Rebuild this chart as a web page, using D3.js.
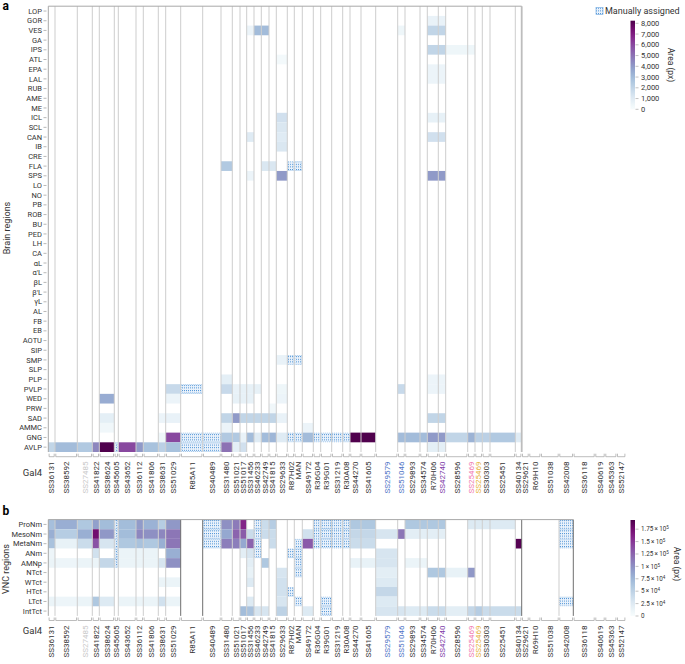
<!DOCTYPE html>
<html><head><meta charset="utf-8">
<script src="https://cdn.jsdelivr.net/npm/d3@7"></script>
<style>body{margin:0;background:#fff}text{font-family:Roboto,"Noto Sans",sans-serif}</style>
</head><body><svg id="c" width="685" height="664"></svg>
<script>
// ---------- DATA ----------
const gal4 = ["SS36131","SS38592","SS27485","SS41822","SS38624","SS45605","SS43652","SS36112","SS41806","SS38631","SS51029","R85A11","SS40489","SS31480","SS51021","SS51017","SS31456","SS46233","SS42749","SS41815","SS29633","R87H02","MAN","SS49172","R36G04","R39G01","SS31219","R30A08","SS44270","SS41605","SS29579","SS51046","SS29893","SS34574","R70H06","SS42740","SS28596","SS25469","SS25469","SS30303","SS25451","SS40134","SS29621","R69H10","SS51038","SS42008","SS36118","SS40619","SS45363","SS52147"];
// relative column widths (number of samples per line)
const colWeights = [6.7,22.3,15,7,15,4,17.7,7.3,15,7.4,15,22,18.3,11.3,7.7,6.7,7.3,7.3,7.7,7.3,11,7,8,11,7.4,11,11,7.3,11,14.7,22,7.3,15,7.3,11,7.4,22,7.3,7.3,7.7,25.3,6.4,7.3,11.7,18.3,14.3,21.7,10,11.7,9];
const brainRegions = ["LOP","GOR","VES","GA","IPS","ATL","EPA","LAL","RUB","AME","ME","ICL","SCL","CAN","IB","CRE","FLA","SPS","LO","NO","PB","ROB","BU","PED","LH","CA","αL","α′L","βL","β′L","γL","AL","FB","EB","AOTU","SIP","SMP","SLP","PLP","PVLP","WED","PRW","SAD","AMMC","GNG","AVLP"];
const vncRegions = ["ProNm","MesoNm","MetaNm","ANm","AMNp","NTct","WTct","HTct","LTct","IntTct"];
const brainTicks = [0,1000,2000,3000,4000,5000,6000,7000,8000];
const vncTicks = [0,25000,50000,75000,100000,125000,150000,175000];
// [region, column index (1-based), area px]
const brainCells = [
 ["GOR",35,600],["GOR",36,600],
 ["VES",17,500],["VES",18,3000],["VES",19,3000],["VES",32,400],["VES",35,2000],["VES",36,2000],
 ["IPS",35,2000],["IPS",36,2000],["IPS",37,400],["IPS",38,400],
 ["ATL",21,200],["EPA",35,500],["EPA",36,500],["LAL",35,500],["LAL",36,500],
 ["ICL",21,1500],["ICL",35,700],["ICL",36,700],["SCL",21,1200],
 ["CAN",17,1000],["CAN",21,1000],["CAN",35,1500],["CAN",36,1500],["IB",21,1200],
 ["FLA",14,2500],["FLA",19,1200],["FLA",20,1200],
 ["SPS",17,500],["SPS",21,4000],["SPS",35,4000],["SPS",36,4000],
 ["SMP",21,600],
 ["PLP",14,800],["PLP",35,500],["PLP",36,500],
 ["PVLP",11,1800],["PVLP",14,1800],["PVLP",15,600],["PVLP",16,700],["PVLP",17,700],["PVLP",18,700],["PVLP",21,400],["PVLP",32,1800],["PVLP",35,500],["PVLP",36,500],
 ["WED",5,3500],["WED",11,500],["WED",15,700],["WED",16,700],["WED",17,700],["WED",21,500],
 ["PRW",20,300],
 ["SAD",5,800],["SAD",10,500],["SAD",11,600],["SAD",14,2000],["SAD",15,4000],["SAD",16,2000],["SAD",17,2000],["SAD",18,2000],["SAD",19,2000],["SAD",20,2000],["SAD",21,600],["SAD",35,2000],["SAD",36,2000],
 ["AMMC",5,300],["AMMC",14,500],["AMMC",24,500],
 ["GNG",10,400],["GNG",11,6000],["GNG",14,2500],["GNG",15,2500],["GNG",16,600],["GNG",17,3000],["GNG",18,1000],["GNG",19,3000],["GNG",20,3200],["GNG",21,1000],["GNG",24,3000],["GNG",29,8200],["GNG",30,8200],["GNG",32,3000],["GNG",33,3000],["GNG",34,3000],["GNG",35,4000],["GNG",36,4000],["GNG",37,2000],["GNG",38,3300],["GNG",39,2200],["GNG",40,2200],["GNG",41,2500],["GNG",42,1000],
 ["AVLP",1,2000],["AVLP",2,3000],["AVLP",3,2500],["AVLP",4,4500],["AVLP",5,8200],["AVLP",7,6000],["AVLP",8,4000],["AVLP",9,2800],["AVLP",10,2200],["AVLP",11,2800],["AVLP",14,5000],["AVLP",15,800],["AVLP",16,1500],["AVLP",35,800],["AVLP",36,800]
];
const brainManual = [["FLA",22],["FLA",23],["SMP",22],["SMP",23],["PVLP",12],["GNG",12],["GNG",13],["GNG",22],["GNG",23],["GNG",25],["GNG",26],["GNG",27],["GNG",28],["AVLP",6],["AVLP",12],["AVLP",13]];
const vncCells = [
 ["ProNm",1,68000],["ProNm",2,81000],["ProNm",3,60000],["ProNm",4,90000],["ProNm",5,70000],["ProNm",7,70000],["ProNm",8,93000],["ProNm",9,78000],["ProNm",10,55000],["ProNm",11,95000],["ProNm",14,100000],["ProNm",15,112000],["ProNm",16,160000],["ProNm",19,40000],["ProNm",20,55000],["ProNm",29,60000],["ProNm",30,60000],["ProNm",33,60000],["ProNm",34,60000],["ProNm",35,60000],["ProNm",36,60000],["ProNm",38,25000],["ProNm",39,25000],["ProNm",40,25000],["ProNm",41,25000],
 ["MesoNm",1,80000],["MesoNm",2,55000],["MesoNm",3,80000],["MesoNm",4,175000],["MesoNm",5,95000],["MesoNm",7,70000],["MesoNm",8,105000],["MesoNm",9,100000],["MesoNm",10,105000],["MesoNm",11,115000],["MesoNm",14,85000],["MesoNm",15,125000],["MesoNm",16,130000],["MesoNm",17,40000],["MesoNm",19,40000],["MesoNm",20,40000],["MesoNm",24,35000],["MesoNm",29,45000],["MesoNm",30,45000],["MesoNm",31,30000],["MesoNm",32,115000],["MesoNm",33,20000],["MesoNm",34,20000],["MesoNm",35,20000],["MesoNm",36,20000],
 ["MetaNm",1,65000],["MetaNm",2,15000],["MetaNm",3,40000],["MetaNm",4,135000],["MetaNm",5,30000],["MetaNm",7,60000],["MetaNm",8,65000],["MetaNm",9,60000],["MetaNm",10,80000],["MetaNm",11,115000],["MetaNm",14,110000],["MetaNm",15,110000],["MetaNm",16,85000],["MetaNm",17,125000],["MetaNm",20,40000],["MetaNm",24,130000],["MetaNm",29,40000],["MetaNm",30,40000],["MetaNm",42,190000],
 ["ANm",1,10000],["ANm",4,35000],["ANm",7,12000],["ANm",8,12000],["ANm",9,12000],["ANm",11,80000],["ANm",16,20000],["ANm",17,30000],["ANm",31,30000],
 ["AMNp",1,12000],["AMNp",2,10000],["AMNp",3,12000],["AMNp",4,12000],["AMNp",5,45000],["AMNp",7,12000],["AMNp",8,12000],["AMNp",9,12000],["AMNp",10,30000],["AMNp",11,100000],["AMNp",17,20000],["AMNp",19,60000],["AMNp",29,15000],["AMNp",30,15000],["AMNp",31,30000],["AMNp",33,12000],["AMNp",34,12000],
 ["NTct",17,15000],["NTct",21,30000],["NTct",31,20000],["NTct",35,60000],["NTct",36,60000],["NTct",37,15000],["NTct",38,95000],
 ["WTct",10,12000],["WTct",11,12000],["WTct",17,25000],["WTct",21,35000],["WTct",31,25000],
 ["HTct",21,35000],["HTct",31,45000],
 ["LTct",1,12000],["LTct",2,10000],["LTct",3,12000],["LTct",4,60000],["LTct",5,25000],["LTct",7,12000],["LTct",8,12000],["LTct",9,12000],["LTct",10,35000],["LTct",11,12000],["LTct",17,25000],["LTct",21,30000],["LTct",31,25000],
 ["IntTct",16,70000],["IntTct",17,65000],["IntTct",18,30000],["IntTct",19,30000],["IntTct",21,50000],["IntTct",24,25000],["IntTct",31,30000],["IntTct",32,30000],["IntTct",33,25000],["IntTct",34,25000],["IntTct",35,40000],["IntTct",36,40000],["IntTct",37,20000],["IntTct",38,45000],["IntTct",39,55000],["IntTct",40,40000],["IntTct",41,40000],["IntTct",42,40000]
];
const vncManual = [["ProNm",6],["MesoNm",6],["MetaNm",6],["ANm",6],["AMNp",6],["ProNm",13],["MesoNm",13],["MetaNm",13],["ProNm",18],["MesoNm",18],["MetaNm",18],["ANm",18],["ANm",22],["ANm",23],["MetaNm",23],["AMNp",23],["NTct",23],["HTct",22],["LTct",23],["LTct",26],["IntTct",26],
 ["ProNm",25],["ProNm",26],["ProNm",27],["ProNm",28],["MesoNm",25],["MesoNm",26],["MesoNm",27],["MesoNm",28],["MetaNm",25],["MetaNm",26],["MetaNm",27],["MetaNm",28],
 ["ProNm",46],["MesoNm",46],["MetaNm",46],["LTct",46]];

// ---------- STYLE ----------
const labelColor = {2:"#c9c9c9",30:"#4e74c6",31:"#4e74c6",35:"#7d3aa8",37:"#f07ab0",38:"#e6b33a"};
const svg = d3.select("#c");
const defs = svg.append("defs");
const pat = defs.append("pattern").attr("id","manual").attr("patternUnits","userSpaceOnUse").attr("width",2).attr("height",2.6);
pat.append("rect").attr("width",2).attr("height",2.6).attr("fill","#eaf2fb");
pat.append("rect").attr("width",1).attr("height",1).attr("fill","#4d93d6");

const cum = [0]; colWeights.forEach(w => cum.push(cum[cum.length-1]+w));
const x = d3.scaleLinear().domain([0, cum[cum.length-1]]).range([48.3, 625.7]);
const yA = d3.scaleBand().domain(brainRegions).range([6.2, 452]);
const yB = d3.scaleBand().domain(vncRegions).range([519.6, 615.9]);
const colA = d3.scaleSequential(d3.interpolateBuPu).domain([0, 8250]);
const colB = d3.scaleSequential(d3.interpolateBuPu).domain([0, 193500]);

function panel(g, y, cells, manual, color, nColsLines, xRight, axisY, labelY, darkBounds, skipBounds, edgeBound){
  g.selectAll("rect.cell").data(cells).join("rect")
   .attr("x", d => x(cum[d[1]-1])).attr("width", d => x(cum[d[1]]) - x(cum[d[1]-1]))
   .attr("y", d => y(d[0])).attr("height", y.bandwidth()).attr("fill", d => color(d[2]));
  g.selectAll("rect.man").data(manual).join("rect")
   .attr("x", d => x(cum[d[1]-1])+0.5).attr("width", d => x(cum[d[1]]) - x(cum[d[1]-1]) - 1)
   .attr("y", d => y(d[0])+0.5).attr("height", y.bandwidth()-1).attr("fill","url(#manual)")
   .attr("stroke","#6aa6df").attr("stroke-width",0.6).attr("stroke-dasharray","1,1");
  const top = y.range()[0], bot = y.range()[1];
  const bounds = d3.range(1, nColsLines+1).filter(i => !skipBounds.includes(i));
  g.selectAll("line.v").data(bounds).join("line")
   .attr("x1", i => x(cum[i])).attr("x2", i => x(cum[i])).attr("y1", top).attr("y2", bot)
   .attr("stroke", i => darkBounds.includes(i) ? "#6e6e6e" : (i===edgeBound ? "#bdbdbd" : "#cdcdcd"))
   .attr("stroke-width", i => i===edgeBound && !darkBounds.includes(i) ? 1.8 : 1);
  g.append("line").attr("x1",48.3).attr("x2",xRight).attr("y1",top).attr("y2",top).attr("stroke","#a8a8a8");
  g.append("line").attr("x1",48.3).attr("x2",48.3).attr("y1",top).attr("y2",bot).attr("stroke","#a8a8a8");
  g.selectAll("line.yt").data(y.domain()).join("line")
   .attr("x1",43.5).attr("x2",46.5).attr("y1",d=>y(d)+y.bandwidth()/2).attr("y2",d=>y(d)+y.bandwidth()/2).attr("stroke","#999").attr("stroke-width",0.7);
  g.selectAll("text.yl").data(y.domain()).join("text")
   .attr("x",42).attr("y",d=>y(d)+y.bandwidth()/2).attr("dy","0.35em").attr("text-anchor","end")
   .attr("font-size",7.5).attr("fill","#333").text(d=>d);
  g.selectAll("path.br").data(gal4).join("path")
   .attr("d",(d,i)=>{const a=x(cum[i])+0.8,b=x(cum[i+1])-0.8;return `M${a},${axisY-3}V${axisY}H${b}V${axisY-3}`;})
   .attr("fill","none").attr("stroke","#a0a0a0").attr("stroke-width",0.7);
  g.selectAll("text.xl").data(gal4).join("text")
   .attr("transform",(d,i)=>`translate(${(x(cum[i])+x(cum[i+1]))/2},${labelY}) rotate(-90)`)
   .attr("dy","0.35em").attr("text-anchor","end").attr("font-size",8)
   .attr("fill",(d,i)=>labelColor[i]||"#333").text(d=>d);
}
panel(svg.append("g"), yA, brainCells, brainManual, colA, 42, 521.7, 456.7, 461.5, [], [], 42);
panel(svg.append("g"), yB, vncCells, vncManual, colB, 46, 573.3, 620.5, 625.5, [11,12,42,46], [43,44], 46);

svg.append("text").attr("x",32.5).attr("y",475.5).attr("text-anchor","middle").attr("font-size",9.5).attr("fill","#333").text("Gal4");
svg.append("text").attr("x",32.5).attr("y",634).attr("text-anchor","middle").attr("font-size",9.5).attr("fill","#333").text("Gal4");
svg.append("text").attr("transform","translate(10,228) rotate(-90)").attr("text-anchor","middle").attr("font-size",9).attr("fill","#333").text("Brain regions");
svg.append("text").attr("transform","translate(9,569) rotate(-90)").attr("text-anchor","middle").attr("font-size",9).attr("fill","#333").text("VNC regions");
svg.append("text").attr("x",2.5).attr("y",9.5).attr("font-size",12).attr("font-weight","bold").attr("fill","#000").text("a");
svg.append("text").attr("x",2.5).attr("y",515).attr("font-size",12).attr("font-weight","bold").attr("fill","#000").text("b");

// legend
svg.append("rect").attr("x",596).attr("y",7.5).attr("width",7).attr("height",7).attr("fill","url(#manual)").attr("stroke","#6aa6df").attr("stroke-width",0.6);
svg.append("text").attr("x",605).attr("y",14.3).attr("font-size",9).attr("fill","#333").text("Manually assigned");

// colorbars
const grad = defs.append("linearGradient").attr("id","bupu").attr("x1",0).attr("x2",0).attr("y1",1).attr("y2",0);
d3.range(0,1.0001,0.05).forEach(t => grad.append("stop").attr("offset",t).attr("stop-color",d3.interpolateBuPu(t)));
function colorbar(y0, y1, scaleMax, ticks, fmt, titleX, titleY, fs){
  const s = d3.scaleLinear().domain([0, scaleMax]).range([y1, y0]);
  svg.append("rect").attr("x",630.5).attr("y",y0).attr("width",4.5).attr("height",y1-y0).attr("fill","url(#bupu)");
  const g = svg.append("g");
  g.selectAll("line").data(ticks).join("line").attr("x1",635.5).attr("x2",638.5).attr("y1",d=>s(d)).attr("y2",d=>s(d)).attr("stroke","#999").attr("stroke-width",0.6);
  g.selectAll("text").data(ticks).join("text").attr("x",641).attr("y",d=>s(d)).attr("dy","0.35em").attr("font-size",fs).attr("fill","#333").each(function(d){fmt(d3.select(this),d);});
  svg.append("text").attr("transform",`translate(${titleX},${titleY}) rotate(90)`).attr("text-anchor","middle").attr("font-size",8.5).attr("fill","#333").text("Area (px)");
}
colorbar(20.7, 109.3, 8242, brainTicks, (t,d)=>t.text(d3.format(",")(d)), 668, 65, 7.5);
colorbar(520, 616, 193500, vncTicks, (t,d)=>{
  if(d===0){t.text("0");return;}
  const e = Math.floor(Math.log10(d)); const m = d/Math.pow(10,e);
  t.append("tspan").text(`${m}\u2009×\u200910`);
  t.append("tspan").attr("dy","-0.45em").attr("font-size",4.5).text(e);
}, 674, 564, 6.3);
</script></body></html>
